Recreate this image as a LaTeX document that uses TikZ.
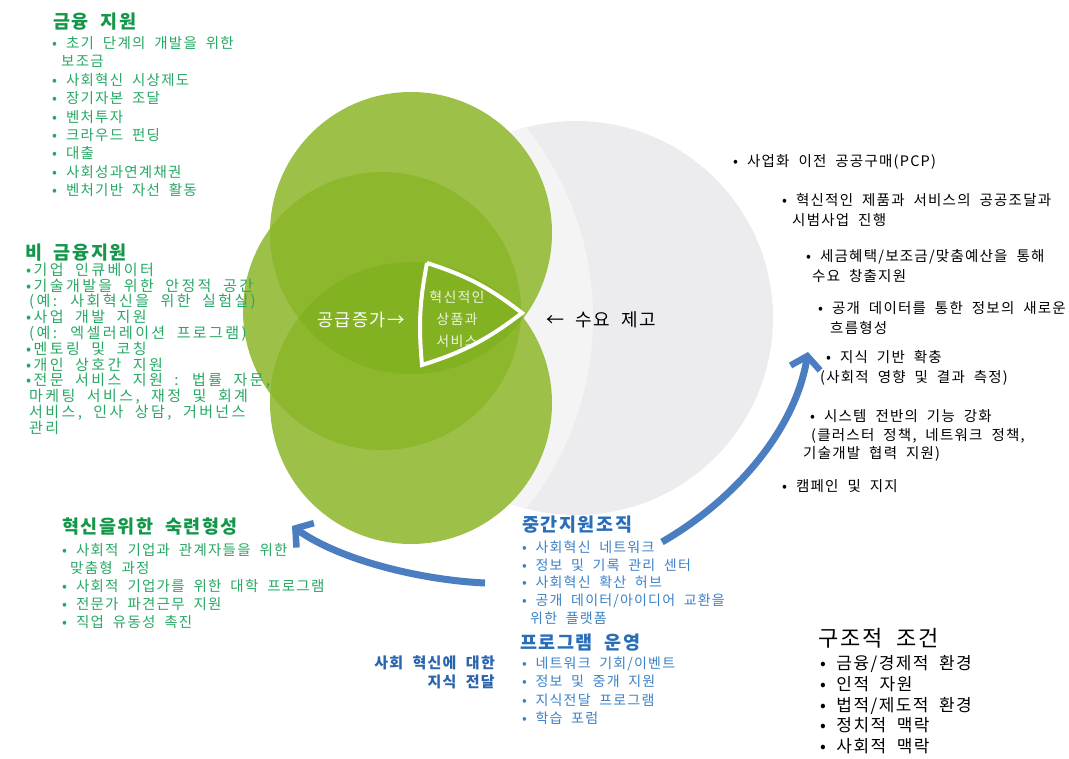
\documentclass[tikz,border=0pt]{standalone}
\usepackage{fontspec}
\setmainfont{Noto Sans CJK KR}[WordSpace=2.0,LetterSpace=8.5]
\usetikzlibrary{arrows.meta}
\lineskiplimit=-100pt
\lineskip=0pt
\definecolor{glight}{RGB}{157,192,72}
\definecolor{gmid}{RGB}{141,183,45}
\definecolor{gdark}{RGB}{130,177,34}
\definecolor{greyc}{RGB}{236,236,238}
\definecolor{greyl}{RGB}{244,244,245}
\definecolor{gtext}{RGB}{38,168,100}
\definecolor{ghead}{RGB}{20,150,75}
\definecolor{btext}{RGB}{60,130,200}
\definecolor{bhead}{RGB}{40,110,185}
\definecolor{blabel}{RGB}{40,100,175}
\definecolor{arrowblue}{RGB}{74,126,193}
\begin{document}
\begin{tikzpicture}[x=1pt,y=-1pt,
  txt/.style={inner sep=0pt,anchor=north west,align=left},
  gitem/.style={txt,text=gtext},
  ghd/.style={inner sep=0pt,anchor=west,text=ghead,font=\bfseries\fontsize{18.5}{20}\selectfont},
  bitem/.style={txt,text=btext},
  bhd/.style={inner sep=0pt,anchor=west,text=bhead,font=\bfseries\fontsize{18.5}{20}\selectfont},
  ritem/.style={txt,text=black,font=\fontsize{14.5}{19.5}\selectfont},
  bigarrow/.style={arrowblue,line width=7pt,-{Straight Barb[length=12pt,width=30pt,line width=6.5pt]}}
]
\useasboundingbox (0,0) rectangle (1069,759);
\fill[white] (0,0) rectangle (1069,759);

% grey demand circle
\fill[greyc] (576,318) circle[radius=197];
\begin{scope}
  \clip (576,318) circle[radius=197];
  \fill[greyl] (288,318) circle[radius=305];
\end{scope}

% green supply circles
\fill[glight] (411,233) circle[radius=141];
\fill[glight] (382,311) circle[radius=139];
\fill[glight] (411,403) circle[radius=141];
\begin{scope}
  \clip (411,233) circle[radius=141];
  \fill[gmid] (382,311) circle[radius=139];
  \fill[gmid] (411,403) circle[radius=141];
\end{scope}
\begin{scope}
  \clip (382,311) circle[radius=139];
  \fill[gmid] (411,403) circle[radius=141];
\end{scope}
\begin{scope}
  \clip (411,233) circle[radius=141];
  \clip (382,311) circle[radius=139];
  \fill[gdark] (411,403) circle[radius=141];
\end{scope}

% white curved triangle
\coordinate (t1) at (427,263);
\coordinate (t2) at (522,313);
\coordinate (t3) at (422,365);
\draw[white,line width=4pt] (t1) to[bend left=10] (t2) to[bend left=10] (t3) to[bend left=8] (t1);

\node[inner sep=0pt,text=white,font=\fontsize{17.5}{18}\selectfont] (supply) at (361,320) {공급증가→};
\node[inner sep=0pt,text=white,opacity=0.85,align=center,font=\fontsize{14}{22}\selectfont] (prod) at (457,319) {혁신적인\\상품과\\서비스};
\node[inner sep=0pt,anchor=west,text=black,font=\fontsize{18}{20}\selectfont] (demand) at (546,320) {← 수요 제고};

% blue arrows
\coordinate (a1s) at (662,542);
\coordinate (a1e) at (808,352);
\coordinate (a2s) at (485,583);
\coordinate (a2e) at (292,526);
\draw[bigarrow] (a1s) .. controls (735,500) and (795,430) .. (a1e);
\draw[bigarrow] (a2s) .. controls (420,580) and (340,560) .. (a2e);

% financial support
\node[ghd] (finh) at (53,22) {금융 지원};
\node[gitem,font=\fontsize{14.5}{18.4}\selectfont] (fin) at (52,35.5) {\strut• 초기 단계의 개발을 위한\\\hspace*{9pt}보조금\\• 사회혁신 시상제도\\• 장기자본 조달\\• 벤처투자\\• 크라우드 펀딩\\• 대출\\• 사회성과연계채권\\• 벤처기반 자선 활동};

% non-financial support
\node[ghd] (nfinh) at (25,253) {비 금융지원};
\node[gitem,font=\fontsize{15}{15.8}\selectfont\addfontfeatures{LetterSpace=16}] (nfin) at (26,262.6) {\strut•기업 인큐베이터\\•기술개발을 위한 안정적 공간\\\hspace*{3pt}(예: 사회혁신을 위한 실험실)\\•사업 개발 지원\\\hspace*{3pt}(예: 엑셀러레이션 프로그램)\\•멘토링 및 코칭\\•개인 상호간 지원\\•전문 서비스 지원 : 법률 자문,\\\hspace*{3pt}마케팅 서비스, 재정 및 회계\\\hspace*{3pt}서비스, 인사 상담, 거버넌스\\\hspace*{3pt}관리};

% skills
\node[ghd] (skillh) at (62,527) {혁신을위한 숙련형성};
\node[gitem,font=\fontsize{14.5}{18}\selectfont] (skill) at (62,542.8) {\strut• 사회적 기업과 관계자들을 위한\\\hspace*{8pt}맞춤형 과정\\• 사회적 기업가를 위한 대학 프로그램\\• 전문가 파견근무 지원\\• 직업 유동성 촉진};

% intermediaries
\node[bhd] (interh) at (522,525) {중간지원조직};
\node[bitem,font=\fontsize{14}{17.8}\selectfont] (inter) at (522,539.7) {\strut• 사회혁신 네트워크\\• 정보 및 기록 관리 센터\\• 사회혁신 확산 허브\\• 공개 데이터/아이디어 교환을\\\hspace*{8pt}위한 플랫폼};
\node[bhd] (progh) at (520,643) {프로그램 운영};
\node[bitem,font=\fontsize{14}{18.3}\selectfont] (prog) at (522,655.4) {\strut• 네트워크 기회/이벤트\\• 정보 및 중개 지원\\• 지식전달 프로그램\\• 학습 포럼};
\node[inner sep=0pt,anchor=north east,align=right,text=blabel,font=\bfseries\fontsize{15}{19}\selectfont] (know) at (495,655.3) {\strut 사회 혁신에 대한\\지식 전달};

% demand-side items
\node[ritem] (r1) at (733,152.7) {\strut• 사업화 이전 공공구매(PCP)};
\node[ritem] (r2) at (782,191.7) {\strut• 혁신적인 제품과 서비스의 공공조달과\\\hspace*{10pt}시범사업 진행};
\node[ritem] (r3) at (806,247.7) {\strut• 세금혜택/보조금/맞춤예산을 통해\\\hspace*{6pt}수요 창출지원};
\node[ritem] (r4) at (818,299.7) {\strut• 공개 데이터를 통한 정보의 새로운\\\hspace*{12pt}흐름형성};
\node[ritem] (r5) at (820,348.7) {\strut\hspace*{6pt}• 지식 기반 확충\\(사회적 영향 및 결과 측정)};
\node[ritem,font=\fontsize{14.5}{18.5}\selectfont] (r6) at (803,408.4) {\strut\hspace*{7pt}• 시스템 전반의 기능 강화\\\hspace*{8pt}(클러스터 정책, 네트워크 정책,\\기술개발 협력 지원)};
\node[ritem] (r7) at (782,477.7) {\strut• 캠페인 및 지지};

% structural conditions
\node[inner sep=0pt,anchor=west,text=black,font=\fontsize{22}{24}\selectfont] (structh) at (818,638) {구조적 조건};
\node[txt,text=black,font=\fontsize{17}{20.8}\selectfont] (struct) at (820,654.7) {\strut• 금융/경제적 환경\\• 인적 자원\\• 법적/제도적 환경\\• 정치적 맥락\\• 사회적 맥락};
\end{tikzpicture}
\end{document}
